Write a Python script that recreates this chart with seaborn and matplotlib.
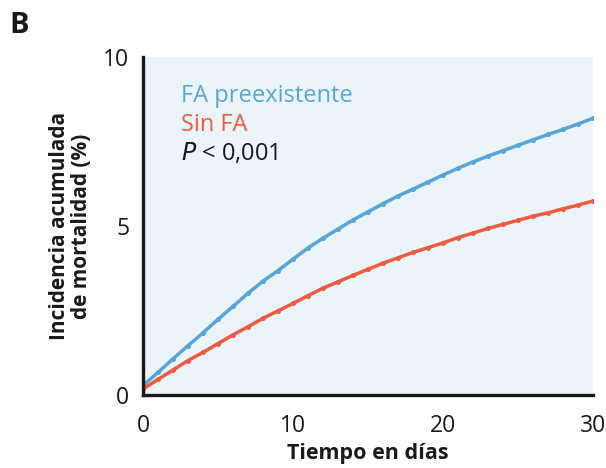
import matplotlib
matplotlib.use("Agg")
import matplotlib.pyplot as plt
import seaborn as sns
import pandas as pd
import numpy as np

# Cumulative mortality incidence (%) by day of follow-up
days = list(range(0, 31))
fa_preexistente = [0.28, 0.67, 1.07, 1.46, 1.84, 2.24, 2.62, 3.01, 3.37, 3.68,
                   4.02, 4.35, 4.64, 4.91, 5.18, 5.42, 5.66, 5.89, 6.09, 6.30,
                   6.51, 6.71, 6.90, 7.07, 7.23, 7.39, 7.55, 7.71, 7.86, 8.02,
                   8.19]
sin_fa = [0.18, 0.46, 0.74, 1.02, 1.26, 1.52, 1.78, 2.02, 2.27, 2.49,
          2.71, 2.94, 3.16, 3.35, 3.54, 3.72, 3.90, 4.06, 4.22, 4.36,
          4.50, 4.66, 4.79, 4.93, 5.05, 5.17, 5.29, 5.39, 5.51, 5.62,
          5.74]
group_names = ["FA preexistente", "Sin FA"]
x_ticks = [0, 10, 20, 30]
y_ticks = [0, 5, 10]

df = pd.DataFrame({
    "dia": days * 2,
    "incidencia": fa_preexistente + sin_fa,
    "grupo": [group_names[0]] * len(days) + [group_names[1]] * len(days),
})

sns.set_style("white")
plt.rcParams["font.family"] = ["Open Sans", "DejaVu Sans"]

ink = "#1a1a1a"
blue = "#58a5da"
red = "#ef5a40"
palette = {group_names[0]: blue, group_names[1]: red}

fig = plt.figure(figsize=(6.06, 4.68), dpi=100)
ax = fig.add_axes([0.236, 0.156, 0.7425, 0.722])
ax.set_facecolor("#ebf3fb")

sns.lineplot(data=df, x="dia", y="incidencia", hue="grupo", palette=palette,
             linewidth=2.5, marker="o", markersize=3.6, markeredgewidth=0,
             legend=False, ax=ax)

ax.set_xlim(0, 30)
ax.set_ylim(0, 10)
ax.set_xticks(x_ticks)
ax.set_yticks(y_ticks)
ax.set_xticks(range(0, 31), minor=True)
ax.set_yticks(range(0, 11), minor=True)

for side in ["top", "right"]:
    ax.spines[side].set_visible(False)
for side in ["left", "bottom"]:
    ax.spines[side].set_linewidth(2.4)
    ax.spines[side].set_color(ink)

ax.tick_params(axis="both", which="major", direction="out", length=6,
               width=2.2, color=ink, labelsize=16.5, labelcolor=ink)
ax.tick_params(axis="x", which="major", pad=8)
ax.tick_params(axis="y", which="major", pad=4)
ax.tick_params(axis="both", which="minor", direction="out", length=2.5,
               width=2.2, color=ink)

ax.set_xlabel("Tiempo en días", fontsize=15.5, fontweight="bold",
              color=ink, labelpad=3)
ax.set_ylabel("Incidencia acumulada\nde mortalidad (%)", fontsize=15,
              fontweight="bold", color=ink, labelpad=8, linespacing=1.05)

# Group labels in the upper-left corner
ax.text(0.085, 0.885, group_names[0], transform=ax.transAxes, color=blue,
        fontsize=17, fontweight="medium", va="center", ha="left")
ax.text(0.085, 0.80, group_names[1], transform=ax.transAxes, color=red,
        fontsize=17, fontweight="medium", va="center", ha="left")
ax.text(0.085, 0.715, r"$\it{P}$ < 0,001", transform=ax.transAxes,
        color=ink, fontsize=17, fontweight="medium", va="center", ha="left")

fig.text(0.016, 0.945, "B", fontsize=21, fontweight="bold", color=ink,
         va="center", ha="left")

fig.savefig("out.png", dpi=100)
